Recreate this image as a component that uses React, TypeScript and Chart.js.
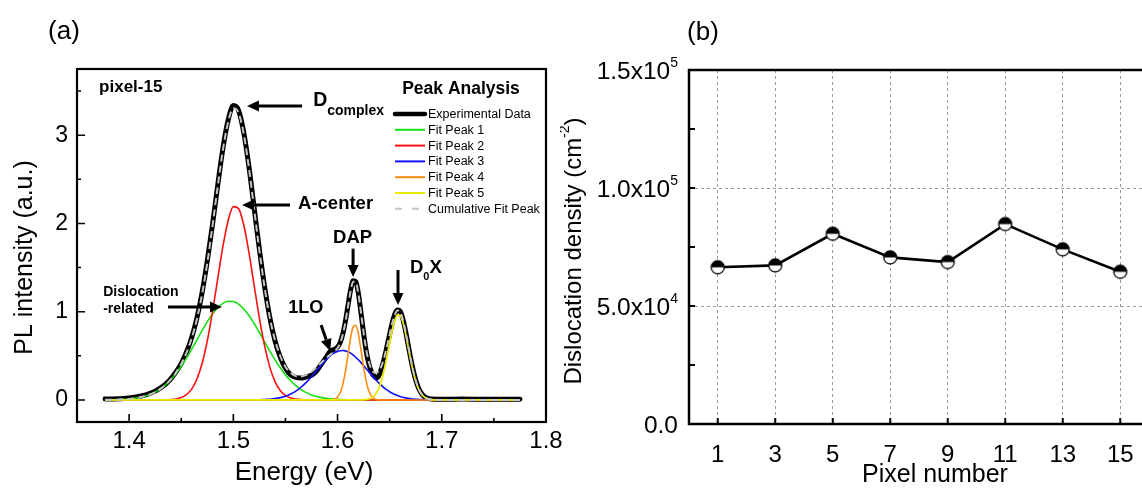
import React, { useEffect, useRef } from "react";
import { Chart, registerables } from "chart.js";

Chart.register(...registerables);

const FONT = "'Liberation Sans', Arial, Helvetica, sans-serif";

// ---------------- Panel (a): PL spectrum, pixel-15 ----------------
const energyEv = [
  1.377, 1.38, 1.385, 1.39, 1.395, 1.4, 1.405, 1.41, 1.415, 1.42,
  1.425, 1.43, 1.435, 1.44, 1.445, 1.45, 1.455, 1.46, 1.465, 1.47,
  1.475, 1.48, 1.485, 1.49, 1.495, 1.5, 1.505, 1.51, 1.515, 1.52,
  1.525, 1.53, 1.535, 1.54, 1.545, 1.55, 1.555, 1.56, 1.565, 1.57,
  1.575, 1.58, 1.585, 1.59, 1.5925, 1.595, 1.5975, 1.6, 1.6025, 1.605,
  1.6075, 1.61, 1.6125, 1.615, 1.6175, 1.62, 1.6225, 1.625, 1.6275, 1.63,
  1.6325, 1.635, 1.6375, 1.64, 1.6425, 1.645, 1.6475, 1.65, 1.6525, 1.655,
  1.6575, 1.66, 1.6625, 1.665, 1.6675, 1.67, 1.6725, 1.675, 1.6775, 1.68,
  1.6825, 1.685, 1.6875, 1.69, 1.7, 1.72, 1.74, 1.76, 1.775,
];

const experimentalData = [
  0.012, 0.01, 0.012, 0.014, 0.016, 0.022, 0.03, 0.042, 0.055, 0.075,
  0.1, 0.135, 0.18, 0.24, 0.318, 0.412, 0.54, 0.705, 0.925, 1.215,
  1.575, 1.985, 2.43, 2.85, 3.17, 3.335, 3.28, 3.03, 2.64, 2.175,
  1.705, 1.285, 0.935, 0.67, 0.485, 0.36, 0.285, 0.255, 0.248, 0.262,
  0.28, 0.33, 0.415, 0.5, 0.545, 0.565, 0.575, 0.6, 0.65, 0.745,
  0.89, 1.07, 1.245, 1.35, 1.34, 1.205, 0.985, 0.755, 0.555, 0.41,
  0.32, 0.27, 0.25, 0.285, 0.37, 0.48, 0.61, 0.745, 0.875, 0.975,
  1.02, 1.005, 0.925, 0.795, 0.64, 0.482, 0.34, 0.225, 0.14, 0.082,
  0.046, 0.025, 0.015, 0.01, 0.008, 0.01, 0.007, 0.009, 0.008,
];

const fitPeak1 = [
  0.001, 0.001, 0.002, 0.004, 0.007, 0.011, 0.018, 0.028, 0.042, 0.062,
  0.089, 0.125, 0.171, 0.229, 0.299, 0.381, 0.473, 0.574, 0.679, 0.785,
  0.884, 0.973, 1.044, 1.094, 1.118, 1.115, 1.086, 1.031, 0.956, 0.865,
  0.764, 0.658, 0.553, 0.454, 0.364, 0.284, 0.217, 0.161, 0.117, 0.083,
  0.057, 0.039, 0.026, 0.016, 0.013, 0.01, 0.008, 0.006, 0.005, 0.004,
  0.003, 0.002, 0.002, 0.001, 0.001, 0.001, 0, 0, 0, 0,
  0, 0, 0, 0, 0, 0, 0, 0, 0, 0,
  0, 0, 0, 0, 0, 0, 0, 0, 0, 0,
  0, 0, 0, 0, 0, 0, 0, 0, 0,
];

const fitPeak2 = [
  0, 0, 0, 0, 0, 0, 0, 0, 0, 0,
  0, 0, 0.001, 0.004, 0.011, 0.027, 0.06, 0.123, 0.235, 0.413,
  0.669, 0.998, 1.372, 1.739, 2.031, 2.19, 2.168, 1.982, 1.669, 1.296,
  0.928, 0.612, 0.372, 0.208, 0.108, 0.051, 0.022, 0.009, 0.003, 0.001,
  0, 0, 0, 0, 0, 0, 0, 0, 0, 0,
  0, 0, 0, 0, 0, 0, 0, 0, 0, 0,
  0, 0, 0, 0, 0, 0, 0, 0, 0, 0,
  0, 0, 0, 0, 0, 0, 0, 0, 0, 0,
  0, 0, 0, 0, 0, 0, 0, 0, 0,
];

const fitPeak3 = [
  0, 0, 0, 0, 0, 0, 0, 0, 0, 0,
  0, 0, 0, 0, 0, 0, 0, 0, 0, 0,
  0, 0, 0, 0, 0, 0, 0, 0, 0.001, 0.001,
  0.002, 0.005, 0.008, 0.015, 0.026, 0.042, 0.067, 0.1, 0.145, 0.199,
  0.263, 0.333, 0.403, 0.467, 0.494, 0.518, 0.537, 0.55, 0.558, 0.56,
  0.556, 0.545, 0.53, 0.509, 0.484, 0.455, 0.423, 0.389, 0.354, 0.318,
  0.284, 0.25, 0.218, 0.188, 0.16, 0.135, 0.113, 0.093, 0.076, 0.061,
  0.049, 0.039, 0.03, 0.023, 0.018, 0.014, 0.01, 0.008, 0.006, 0.004,
  0.003, 0.002, 0.001, 0.001, 0, 0, 0, 0, 0,
];

const fitPeak4 = [
  0, 0, 0, 0, 0, 0, 0, 0, 0, 0,
  0, 0, 0, 0, 0, 0, 0, 0, 0, 0,
  0, 0, 0, 0, 0, 0, 0, 0, 0, 0,
  0, 0, 0, 0, 0, 0, 0, 0, 0, 0,
  0, 0, 0, 0, 0.001, 0.003, 0.011, 0.033, 0.081, 0.174,
  0.321, 0.511, 0.701, 0.83, 0.847, 0.746, 0.566, 0.371, 0.21, 0.102,
  0.043, 0.016, 0.005, 0.001, 0, 0, 0, 0, 0, 0,
  0, 0, 0, 0, 0, 0, 0, 0, 0, 0,
  0, 0, 0, 0, 0, 0, 0, 0, 0,
];

const fitPeak5 = [
  0, 0, 0, 0, 0, 0, 0, 0, 0, 0,
  0, 0, 0, 0, 0, 0, 0, 0, 0, 0,
  0, 0, 0, 0, 0, 0, 0, 0, 0, 0,
  0, 0, 0, 0, 0, 0, 0, 0, 0, 0,
  0, 0, 0, 0, 0, 0, 0, 0, 0, 0,
  0, 0, 0, 0, 0, 0, 0, 0.002, 0.005, 0.011,
  0.023, 0.045, 0.084, 0.146, 0.235, 0.353, 0.496, 0.65, 0.795, 0.906,
  0.965, 0.958, 0.888, 0.768, 0.619, 0.466, 0.327, 0.215, 0.131, 0.075,
  0.04, 0.02, 0.009, 0.004, 0, 0, 0, 0, 0,
];

const cumulativeFit = [
  0.001, 0.001, 0.002, 0.004, 0.007, 0.011, 0.018, 0.028, 0.042, 0.062,
  0.089, 0.125, 0.172, 0.233, 0.31, 0.408, 0.533, 0.697, 0.914, 1.198,
  1.553, 1.971, 2.416, 2.833, 3.149, 3.305, 3.254, 3.013, 2.626, 2.162,
  1.694, 1.275, 0.933, 0.677, 0.498, 0.377, 0.306, 0.27, 0.265, 0.283,
  0.32, 0.372, 0.429, 0.483, 0.508, 0.531, 0.556, 0.589, 0.644, 0.738,
  0.88, 1.058, 1.233, 1.34, 1.332, 1.202, 0.989, 0.762, 0.569, 0.431,
  0.35, 0.311, 0.307, 0.335, 0.395, 0.488, 0.609, 0.743, 0.871, 0.967,
  1.014, 0.997, 0.918, 0.791, 0.637, 0.48, 0.337, 0.223, 0.137, 0.079,
  0.043, 0.022, 0.01, 0.005, 0, 0, 0, 0, 0,
];

const energyTicks = [1.4, 1.5, 1.6, 1.7, 1.8];
const energyTickLabels = ["1.4", "1.5", "1.6", "1.7", "1.8"];
const energyMinorTicks = [1.45, 1.55, 1.65, 1.75];
const intensityTicks = [0, 1, 2, 3];
const intensityTickLabels = ["0", "1", "2", "3"];
const intensityMinorTicks = [0.5, 1.5, 2.5, 3.5];

const seriesNames = [
  "Experimental Data",
  "Fit Peak 1",
  "Fit Peak 2",
  "Fit Peak 3",
  "Fit Peak 4",
  "Fit Peak 5",
  "Cumulative Fit Peak",
];

// peak annotations (positions given in data units: energy, intensity)
const peakLabels = [
  { text: "pixel-15", energy: 1.3712, intensity: 3.546, size: 17, align: "left" },
  { text: "A-center", energy: 1.5621, intensity: 2.22, size: 18.5, align: "left" },
  { text: "DAP", energy: 1.6144, intensity: 1.84, size: 18.5, align: "center" },
  { text: "1LO", energy: 1.5694, intensity: 1.041, size: 18, align: "center" },
  { text: "Dislocation", energy: 1.3751, intensity: 1.223, size: 14, align: "left" },
  { text: "-related", energy: 1.3751, intensity: 1.03, size: 14, align: "left" },
];
const peakArrows = [
  { from: [1.5659, 3.33], to: [1.5131, 3.33] },
  { from: [1.5544, 2.208], to: [1.5084, 2.208] },
  { from: [1.6149, 1.715], to: [1.6149, 1.393] },
  { from: [1.658, 1.472], to: [1.658, 1.075] },
  { from: [1.5842, 0.849], to: [1.5929, 0.554] },
  { from: [1.4373, 1.053], to: [1.4891, 1.053] },
];

// ---------------- Panel (b): dislocation density ----------------
const pixelNumbers = [1, 3, 5, 7, 9, 11, 13, 15];
const dislocationDensity = [66400, 67200, 80600, 70600, 68600, 84700, 74000, 64500];
const pixelTicks = [1, 3, 5, 7, 9, 11, 13, 15];
const pixelTickLabels = ["1", "3", "5", "7", "9", "11", "13", "15"];
const densityTicks = [0, 50000, 100000, 150000];
const densityTickMantissa = ["0.0", "5.0x10", "1.0x10", "1.5x10"];
const densityTickExponent = ["", "4", "5", "5"];
const densityMinorTicks = [25000, 75000, 125000];

// ---------------- helpers ----------------
function font(size: number, weight = "normal") {
  return `${weight} ${size}px ${FONT}`;
}

function drawArrow(ctx: CanvasRenderingContext2D, x1: number, y1: number, x2: number, y2: number) {
  const headLen = 12;
  const headW = 5.5;
  const ang = Math.atan2(y2 - y1, x2 - x1);
  const bx = x2 - headLen * Math.cos(ang);
  const by = y2 - headLen * Math.sin(ang);
  ctx.lineWidth = 3;
  ctx.beginPath();
  ctx.moveTo(x1, y1);
  ctx.lineTo(bx, by);
  ctx.stroke();
  ctx.beginPath();
  ctx.moveTo(x2, y2);
  ctx.lineTo(bx + headW * Math.sin(ang), by - headW * Math.cos(ang));
  ctx.lineTo(bx - headW * Math.sin(ang), by + headW * Math.cos(ang));
  ctx.closePath();
  ctx.fill();
}

const colorsA = ["#000000", "#12e012", "#ff1010", "#1010ff", "#ff8a10", "#eaea00", "#c4c4c4"];
const widthsA = [5, 1.6, 1.6, 1.6, 1.6, 1.8, 2];
const dashesA: number[][] = [[], [], [], [], [], [], [7, 4]];
const ordersA = [6, 5, 4, 3, 2, 1, 0];
const valuesA = [experimentalData, fitPeak1, fitPeak2, fitPeak3, fitPeak4, fitPeak5, cumulativeFit];

const panelAPlugin = {
  id: "panelADecor",
  afterDraw(chart: any) {
    const { ctx, chartArea: ca, scales } = chart;
    const x = scales.x;
    const y = scales.y;
    ctx.save();
    ctx.strokeStyle = "#000";
    ctx.fillStyle = "#000";
    // inward ticks
    ctx.lineWidth = 1.6;
    ctx.beginPath();
    energyTicks.forEach((v) => {
      const p = x.getPixelForValue(v);
      ctx.moveTo(p, ca.bottom);
      ctx.lineTo(p, ca.bottom - 8);
    });
    energyMinorTicks.forEach((v) => {
      const p = x.getPixelForValue(v);
      ctx.moveTo(p, ca.bottom);
      ctx.lineTo(p, ca.bottom - 4);
    });
    intensityTicks.forEach((v) => {
      const p = y.getPixelForValue(v);
      ctx.moveTo(ca.left, p);
      ctx.lineTo(ca.left + 8, p);
    });
    intensityMinorTicks.forEach((v) => {
      const p = y.getPixelForValue(v);
      ctx.moveTo(ca.left, p);
      ctx.lineTo(ca.left + 4, p);
    });
    ctx.stroke();
    // frame
    ctx.lineWidth = 2.2;
    ctx.strokeRect(ca.left, ca.top, ca.right - ca.left, ca.bottom - ca.top);

    // annotations
    ctx.textBaseline = "middle";
    peakLabels.forEach((l) => {
      ctx.font = font(l.size, "bold");
      ctx.textAlign = l.align as CanvasTextAlign;
      ctx.fillText(l.text, x.getPixelForValue(l.energy), y.getPixelForValue(l.intensity));
    });
    ctx.textAlign = "left";
    // D_complex
    {
      const px = x.getPixelForValue(1.5766);
      ctx.font = font(19.5, "bold");
      ctx.fillText("D", px, y.getPixelForValue(3.387));
      const w = ctx.measureText("D").width;
      ctx.font = font(14, "bold");
      ctx.fillText("complex", px + w, y.getPixelForValue(3.274));
    }
    // D_0 X
    {
      const px = x.getPixelForValue(1.6695);
      const pyMain = y.getPixelForValue(1.495);
      ctx.font = font(18.5, "bold");
      ctx.fillText("D", px, pyMain);
      const wD = ctx.measureText("D").width;
      ctx.font = font(11, "bold");
      ctx.fillText("0", px + wD, y.getPixelForValue(1.393));
      const w0 = ctx.measureText("0").width;
      ctx.font = font(18.5, "bold");
      ctx.fillText("X", px + wD + w0, pyMain);
    }
    peakArrows.forEach((a) => {
      drawArrow(
        ctx,
        x.getPixelForValue(a.from[0]),
        y.getPixelForValue(a.from[1]),
        x.getPixelForValue(a.to[0]),
        y.getPixelForValue(a.to[1])
      );
    });

    // legend ("Peak Analysis")
    ctx.font = font(17.5, "bold");
    ctx.textAlign = "center";
    ctx.fillText("Peak Analysis", ca.right - 85, ca.top + 20);
    ctx.textAlign = "left";
    ctx.font = font(12.5);
    seriesNames.forEach((name, i) => {
      const ry = ca.top + 45 + i * 15.8;
      ctx.save();
      ctx.strokeStyle = colorsA[i];
      ctx.lineWidth = i === 0 ? 4.5 : 2;
      ctx.setLineDash(i === 6 ? [7, 10] : []);
      ctx.lineCap = i === 0 ? "round" : "butt";
      ctx.beginPath();
      ctx.moveTo(ca.right - 151, ry);
      ctx.lineTo(ca.right - 121, ry);
      ctx.stroke();
      ctx.restore();
      ctx.fillText(name, ca.right - 118, ry + 0.5);
    });

    // panel letter and axis titles
    ctx.font = font(26);
    ctx.textAlign = "center";
    ctx.fillText("(a)", 64, 32);
    ctx.font = font(26);
    ctx.fillText("Energy (eV)", 304, 473);
    ctx.save();
    ctx.translate(25, 257.5);
    ctx.rotate(-Math.PI / 2);
    ctx.font = font(25);
    ctx.fillText("PL intensity (a.u.)", 0, 0);
    ctx.restore();
    ctx.restore();
  },
};

const panelBPlugin = {
  id: "panelBDecor",
  afterDraw(chart: any) {
    const { ctx, chartArea: ca, scales } = chart;
    const x = scales.x;
    const y = scales.y;
    ctx.save();
    ctx.strokeStyle = "#000";
    ctx.fillStyle = "#000";
    ctx.lineWidth = 2;
    ctx.beginPath();
    pixelTicks.forEach((v) => {
      const p = x.getPixelForValue(v);
      ctx.moveTo(p, ca.bottom);
      ctx.lineTo(p, ca.bottom - 6);
    });
    densityTicks.concat(densityMinorTicks).forEach((v) => {
      const p = y.getPixelForValue(v);
      ctx.moveTo(ca.left, p);
      ctx.lineTo(ca.left + 6, p);
    });
    ctx.stroke();
    ctx.lineWidth = 2.5;
    ctx.strokeRect(ca.left, ca.top, ca.right - ca.left, ca.bottom - ca.top);

    // y tick labels with superscript exponents
    ctx.textBaseline = "middle";
    const rightEdge = ca.left - 11;
    densityTicks.forEach((v, i) => {
      const py = y.getPixelForValue(v) + 2;
      ctx.font = font(14);
      const exp = densityTickExponent[i];
      const wE = exp ? ctx.measureText(exp).width : 0;
      if (exp) {
        ctx.textAlign = "left";
        ctx.fillText(exp, rightEdge - wE, py - 9);
      }
      ctx.font = font(24.5);
      ctx.textAlign = "right";
      ctx.fillText(densityTickMantissa[i], rightEdge - wE, py);
    });

    // y title with superscript
    ctx.save();
    ctx.translate(14, 251);
    ctx.rotate(-Math.PI / 2);
    const t1 = "Dislocation density (cm";
    const t2 = "-2";
    const t3 = ")";
    ctx.font = font(24);
    const w1 = ctx.measureText(t1).width;
    const w3 = ctx.measureText(t3).width;
    ctx.font = font(14);
    const w2 = ctx.measureText(t2).width;
    let cx = -(w1 + w2 + w3) / 2;
    ctx.textAlign = "left";
    ctx.font = font(24);
    ctx.fillText(t1, cx, 0);
    cx += w1;
    ctx.font = font(14);
    ctx.fillText(t2, cx, -9);
    cx += w2;
    ctx.font = font(24);
    ctx.fillText(t3, cx, 0);
    ctx.restore();

    ctx.textAlign = "center";
    ctx.font = font(25);
    ctx.fillText("Pixel number", 375, 475);
    ctx.font = font(26);
    ctx.fillText("(b)", 143, 33);
    ctx.restore();
  },
};

function makeHalfMarker(r: number) {
  const size = Math.ceil(r * 2 + 4);
  const c = document.createElement("canvas");
  c.width = size;
  c.height = size;
  const g = c.getContext("2d")!;
  const cx = size / 2;
  const cy = size / 2;
  g.fillStyle = "#fff";
  g.beginPath();
  g.arc(cx, cy, r, 0, Math.PI * 2);
  g.fill();
  g.fillStyle = "#000";
  g.beginPath();
  g.arc(cx, cy, r, Math.PI, Math.PI * 2);
  g.closePath();
  g.fill();
  g.strokeStyle = "#000";
  g.lineWidth = 1.3;
  g.beginPath();
  g.arc(cx, cy, r, 0, Math.PI * 2);
  g.stroke();
  return c;
}

export default function App() {
  const refA = useRef<HTMLCanvasElement>(null);
  const refB = useRef<HTMLCanvasElement>(null);

  useEffect(() => {
    Chart.defaults.font.family = FONT;
    Chart.defaults.color = "#000";

    const chartA = new Chart(refA.current as HTMLCanvasElement, {
      type: "line",
      data: {
        datasets: seriesNames.map((name, k) => ({
          label: name,
          data: energyEv.map((e, i) => ({ x: e, y: valuesA[k][i] })),
          borderColor: colorsA[k],
          borderWidth: widthsA[k],
          borderDash: dashesA[k],
          pointRadius: 0,
          fill: false,
          cubicInterpolationMode: "monotone",
          borderJoinStyle: "round",
          borderCapStyle: k === 0 ? "round" : "butt",
          order: ordersA[k],
        })),
      },
      options: {
        responsive: false,
        animation: false,
        layout: { padding: { top: 69, right: 34, left: 0, bottom: 0 } },
        plugins: { legend: { display: false }, tooltip: { enabled: false } },
        scales: {
          x: {
            type: "linear",
            min: 1.35,
            max: 1.8,
            afterBuildTicks: (s: any) => {
              s.ticks = energyTicks.map((v) => ({ value: v }));
            },
            afterFit: (s: any) => {
              s.height = 67;
            },
            grid: { display: false, drawTicks: false },
            border: { display: false },
            ticks: {
              font: { size: 24, family: FONT },
              color: "#000",
              padding: 5,
              maxRotation: 0,
              autoSkip: false,
              callback: (_v: any, i: number) => energyTickLabels[i],
            },
          },
          y: {
            type: "linear",
            min: -0.25,
            max: 3.75,
            afterBuildTicks: (s: any) => {
              s.ticks = intensityTicks.map((v) => ({ value: v }));
            },
            afterFit: (s: any) => {
              s.width = 77;
            },
            grid: { display: false, drawTicks: false },
            border: { display: false },
            ticks: {
              font: { size: 23, family: FONT },
              color: "#000",
              padding: 9,
              autoSkip: false,
              callback: (_v: any, i: number) => intensityTickLabels[i],
            },
          },
        },
      } as any,
      plugins: [panelAPlugin],
    } as any);

    const marker = makeHalfMarker(6.5);
    const chartB = new Chart(refB.current as HTMLCanvasElement, {
      type: "line",
      data: {
        datasets: [
          {
            label: "Dislocation density",
            data: pixelNumbers.map((p, i) => ({ x: p, y: dislocationDensity[i] })),
            borderColor: "#000",
            borderWidth: 2.6,
            pointStyle: marker,
            pointRadius: 7,
            fill: false,
            tension: 0,
          },
        ],
      },
      options: {
        responsive: false,
        animation: false,
        layout: { padding: { top: 70, right: 11, left: 0, bottom: 0 } },
        plugins: { legend: { display: false }, tooltip: { enabled: false } },
        scales: {
          x: {
            type: "linear",
            min: 0,
            max: 16,
            afterBuildTicks: (s: any) => {
              s.ticks = pixelTicks.map((v) => ({ value: v }));
            },
            afterFit: (s: any) => {
              s.height = 65;
            },
            grid: { display: true, drawTicks: false, color: "#9a9a9a", lineWidth: 1 },
            border: { display: false, dash: [3, 3] },
            ticks: {
              font: { size: 24, family: FONT },
              color: "#000",
              padding: 17,
              maxRotation: 0,
              autoSkip: false,
              callback: (_v: any, i: number) => pixelTickLabels[i],
            },
          },
          y: {
            type: "linear",
            min: 0,
            max: 150000,
            afterBuildTicks: (s: any) => {
              s.ticks = densityTicks.map((v) => ({ value: v }));
            },
            afterFit: (s: any) => {
              s.width = 129;
            },
            grid: { display: true, drawTicks: false, color: "#9a9a9a", lineWidth: 1 },
            border: { display: false, dash: [3, 3] },
            ticks: { display: false },
          },
        },
      } as any,
      plugins: [panelBPlugin],
    } as any);

    return () => {
      chartA.destroy();
      chartB.destroy();
    };
  }, []);

  return (
    <div
      style={{
        position: "fixed",
        left: 0,
        top: 0,
        width: 1142,
        height: 489,
        overflow: "hidden",
        background: "#fff",
      }}
    >
      <canvas
        ref={refA}
        width={580}
        height={489}
        style={{ position: "absolute", left: 0, top: 0, width: 580, height: 489 }}
      />
      <canvas
        ref={refB}
        width={600}
        height={489}
        style={{ position: "absolute", left: 560, top: 0, width: 600, height: 489 }}
      />
    </div>
  );
}
